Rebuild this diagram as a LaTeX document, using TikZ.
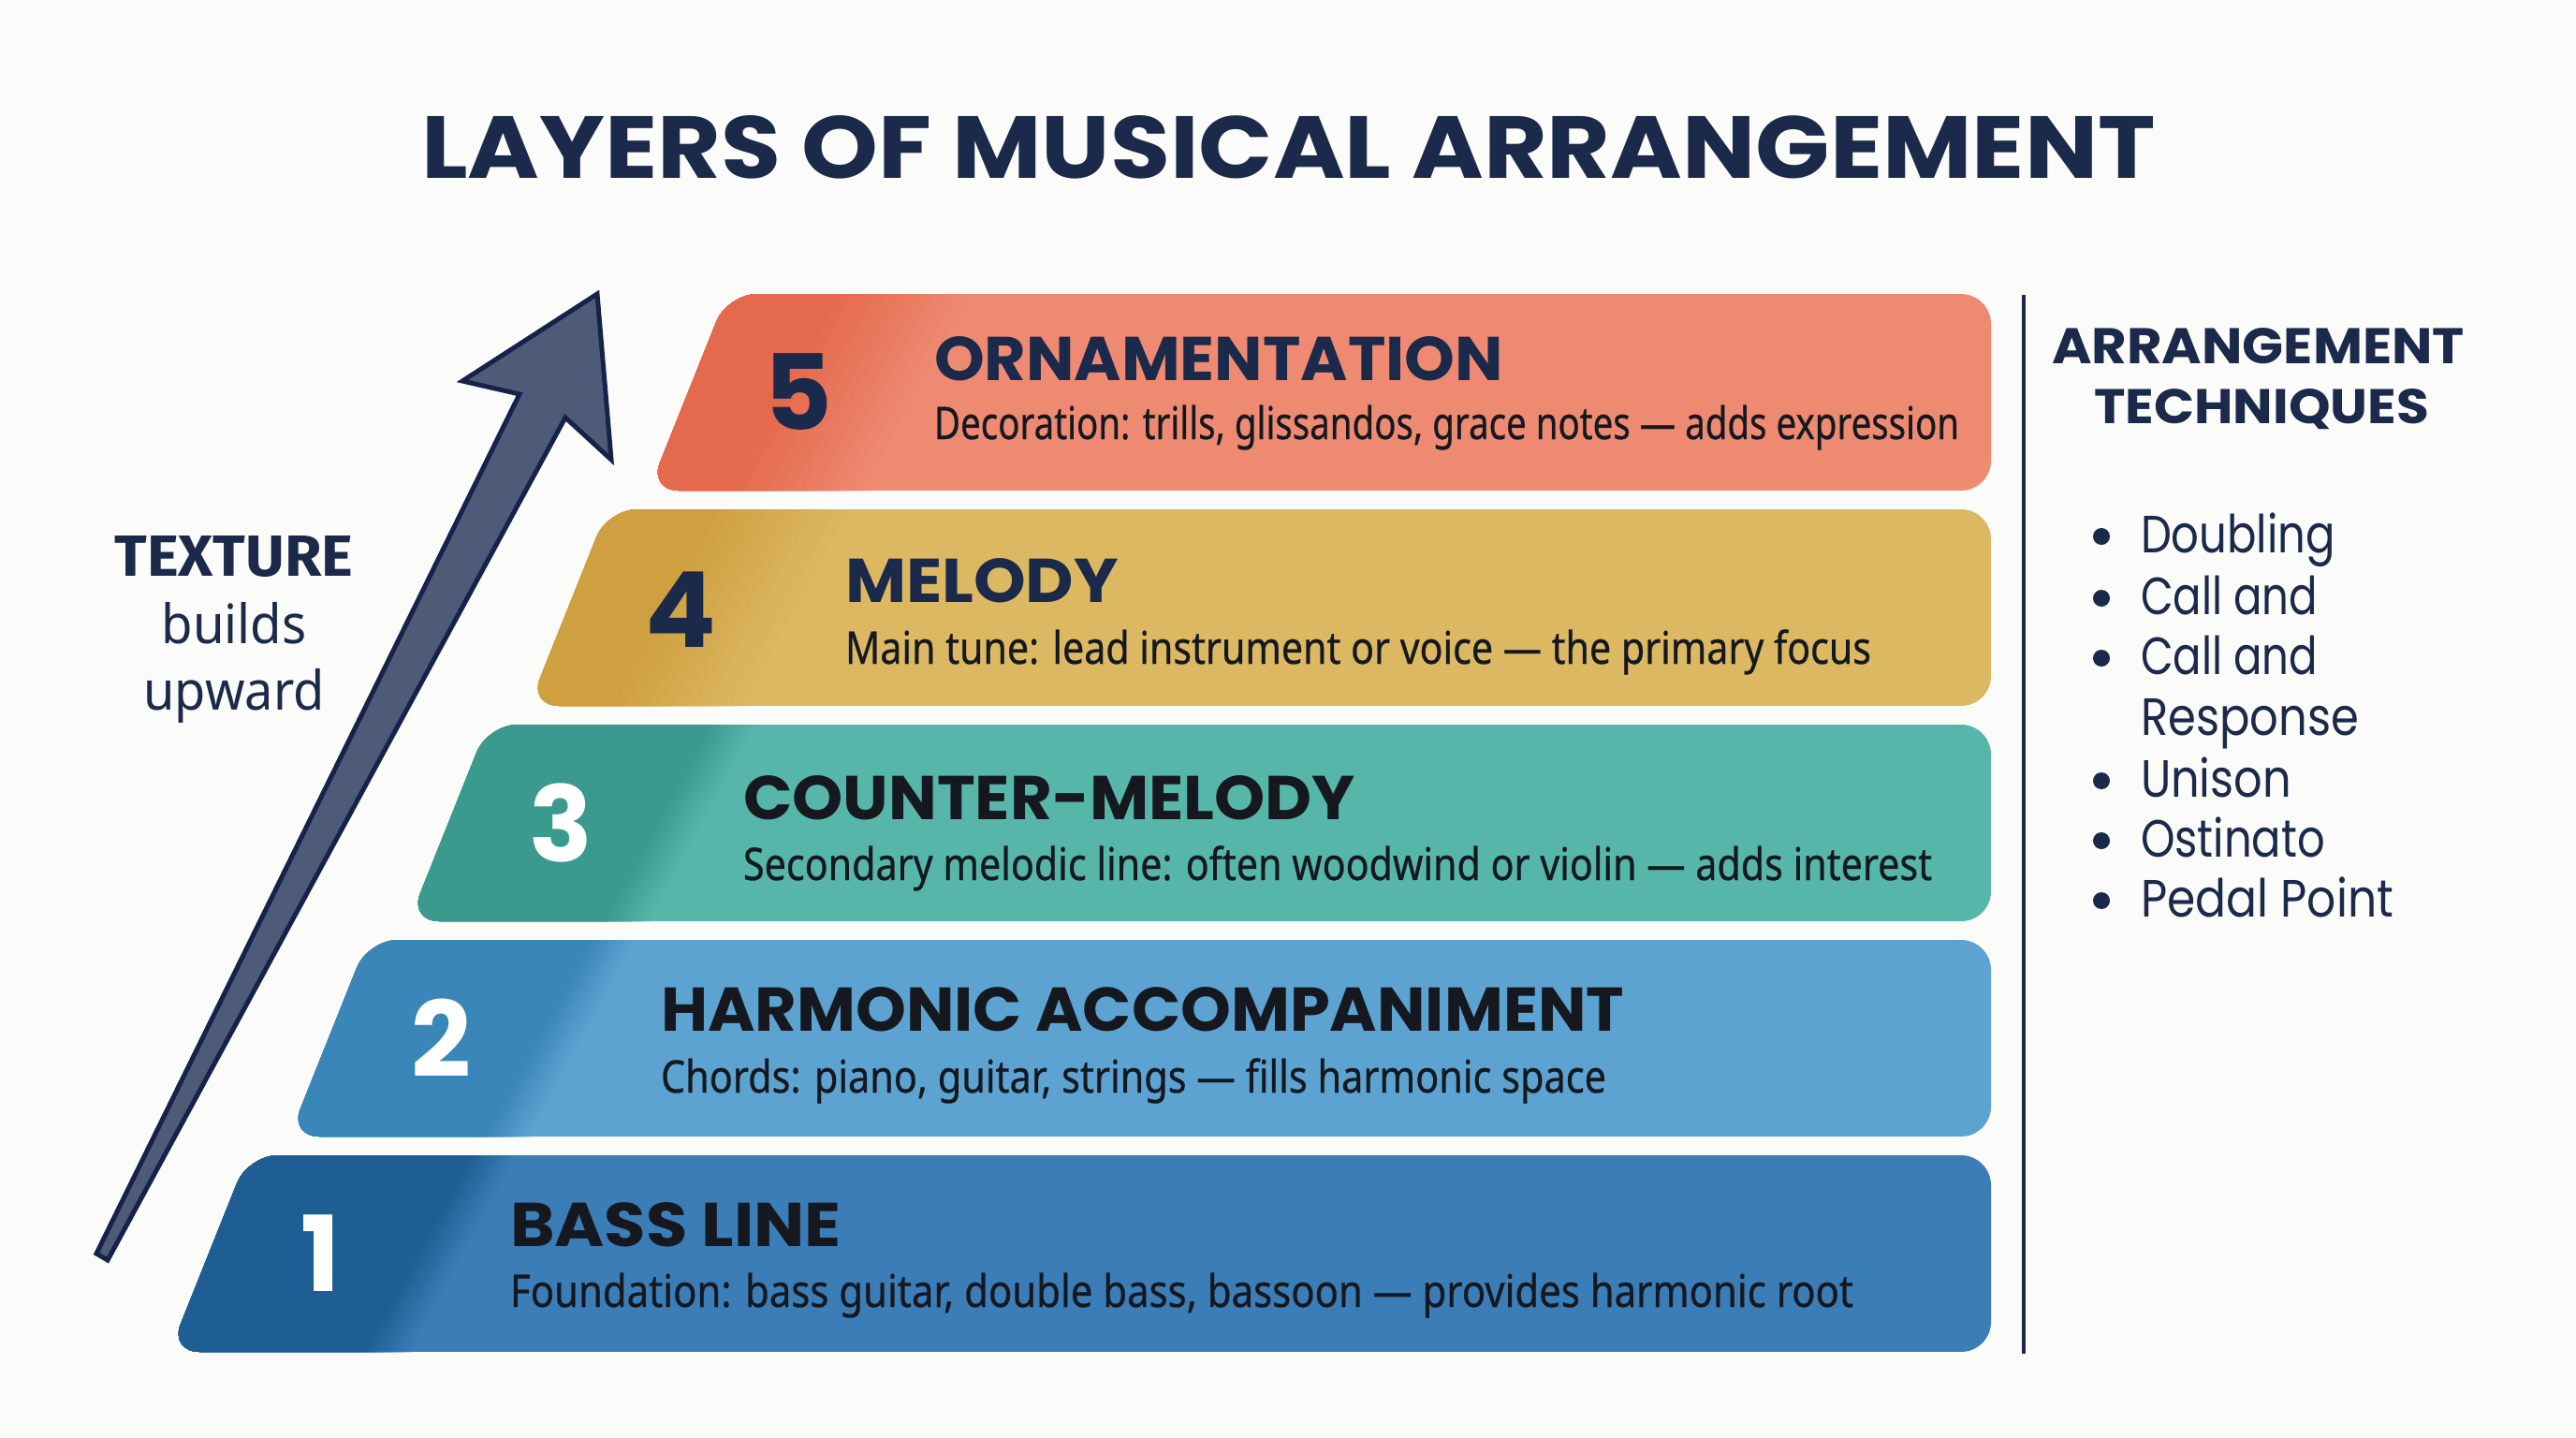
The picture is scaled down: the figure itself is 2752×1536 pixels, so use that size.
\documentclass[tikz,border=0pt]{standalone}
\usepackage{fontspec}
\usepackage{graphicx}
\setmainfont{Noto Sans}
\newfontfamily\pop{Poppins}
\newfontfamily\descf{Noto Sans}[FakeBold=0.6]
\newfontfamily\firab{Fira Sans Bold}
\newfontfamily\fira{Fira Sans}
\newcommand{\fitwh}[3]{\resizebox{#1}{#2}{#3}}
\newcommand{\fitw}[2]{\resizebox{#1}{\height}{#2}}
\definecolor{navy}{HTML}{1B2A4A}
\definecolor{ink}{HTML}{15181F}
\definecolor{bg}{HTML}{FBFBF9}
\definecolor{arrowfill}{HTML}{4E5B78}
\definecolor{arrowline}{HTML}{15234A}
\definecolor{cmain}{HTML}{EE8A72}\definecolor{cdark}{HTML}{E5694C}
\definecolor{gmain}{HTML}{DCB863}\definecolor{gdark}{HTML}{CFA03F}
\definecolor{tmain}{HTML}{56B6A9}\definecolor{tdark}{HTML}{3A9A8D}
\definecolor{lmain}{HTML}{5CA3D1}\definecolor{ldark}{HTML}{3B86B8}
\definecolor{bmain}{HTML}{3B7DB7}\definecolor{bdark}{HTML}{1F5E94}
% #1 top, #2 left-bottom x, #3 main, #4 dark, #5 band start, #6 band width
\newcommand{\layershape}[6]{%
  \begin{scope}
    \clip[rounded corners=32pt] (#2,#1+210) -- ({#2+84},#1) -- (2127,#1) -- (2127,#1+210) -- cycle;
    \fill[#3] (0,#1) rectangle (2200,#1+210);
    \foreach \k in {12,11,...,0}{%
      \pgfmathsetmacro\o{#5+\k*#6/12}%
      \pgfmathtruncatemacro\pc{100-\k*100/12}%
      \fill[#4!\pc!#3] (0,#1) -- ({#2+84+\o},#1) -- ({#2+\o-30},#1+210) -- (0,#1+210) -- cycle;
    }
  \end{scope}}
\begin{document}
\begin{tikzpicture}[x=1pt,y=-1pt,
  every node/.style={inner sep=0pt, outer sep=0pt},
  head/.style={anchor=base west, font=\pop\bfseries\fontsize{67}{67}\selectfont},
  desc/.style={anchor=base west, text=ink, font=\descf\fontsize{48}{48}\selectfont},
  num/.style={anchor=center, font=\pop\bfseries\fontsize{112}{112}\selectfont},
  item/.style={anchor=base west, text=navy, font=\pop\fontsize{56}{56}\selectfont},
  bul/.style={circle, fill=navy, minimum size=18pt},
  side/.style={anchor=base, text=navy}]
\useasboundingbox (0,0) rectangle (2752,1536);
\fill[bg] (0,0) rectangle (2752,1536);

% title
\node[anchor=base west, text=navy, font=\pop\bfseries\fontsize{96}{96}\selectfont] (title) at (450,190)
  {\fitwh{1853pt}{67pt}{LAYERS OF MUSICAL ARRANGEMENT}};

% layers
\layershape{1234}{181}{bmain}{bdark}{240}{50}
\layershape{1004}{309}{lmain}{ldark}{240}{50}
\layershape{774}{437}{tmain}{tdark}{240}{50}
\layershape{544}{565}{gmain}{gdark}{120}{150}
\layershape{314}{693}{cmain}{cdark}{120}{150}

% numbers
\node[num, text=white] (n1) at (343,1339) {1};
\node[num, text=white] (n2) at (471,1109) {2};
\node[num, text=white] (n3) at (599,879) {3};
\node[num, text=navy] (n4) at (727,651) {4};
\node[num, text=navy] (n5) at (853,419) {5};

% headings and descriptions
\node[head, text=navy] (h5) at (998,406) {\fitwh{608pt}{47pt}{ORNAMENTATION}};
\node[desc] (d5) at (998,469) {\fitw{1095pt}{Decoration: trills, glissandos, grace notes — adds expression}};
\node[head, text=navy] (h4) at (903,643) {\fitwh{292pt}{47pt}{MELODY}};
\node[desc] (d4) at (903,709) {\fitw{1096pt}{Main tune: lead instrument or voice — the primary focus}};
\node[head, text=ink] (h3) at (794,875) {\fitwh{654pt}{47pt}{COUNTER-MELODY}};
\node[desc] (d3) at (794,940) {\fitw{1270pt}{Secondary melodic line: often woodwind or violin — adds interest}};
\node[head, text=ink] (h2) at (706,1101) {\fitwh{1029pt}{47pt}{HARMONIC ACCOMPANIMENT}};
\node[desc] (d2) at (706,1167) {\fitw{1010pt}{Chords: piano, guitar, strings — fills harmonic space}};
\node[head, text=ink] (h1) at (545,1331) {\fitwh{354pt}{47pt}{BASS LINE}};
\node[desc] (d1) at (545,1396) {\fitw{1435pt}{Foundation: bass guitar, double bass, bassoon — provides harmonic root}};

% arrow
\filldraw[fill=arrowfill, draw=arrowline, line width=5pt, line join=miter]
  (103,1339) -- (555,421) -- (494,407) -- (638,314) -- (653,491) -- (604,446) -- (115,1346) -- cycle;

% left label
\node[side, font=\firab\fontsize{60}{60}\selectfont] (tex) at (250,615) {\fitwh{255pt}{43pt}{TEXTURE}};
\node[side, font=\fontsize{58}{58}\selectfont] (bld) at (250,687) {\fitw{155pt}{builds}};
\node[side, font=\fontsize{58}{58}\selectfont] (upw) at (250,758) {\fitw{193pt}{upward}};

% divider
\coordinate (vtop) at (2162,315);
\coordinate (vbot) at (2162,1446);
\draw[navy, line width=4pt] (vtop) -- (vbot);

% right panel
\node[anchor=base west, text=navy, font=\pop\bfseries\fontsize{54}{54}\selectfont] (rt1) at (2192,388) {\fitwh{441pt}{38pt}{ARRANGEMENT}};
\node[anchor=base west, text=navy, font=\pop\bfseries\fontsize{54}{54}\selectfont] (rt2) at (2237,452) {\fitwh{358pt}{37pt}{TECHNIQUES}};

\node[bul] (b1) at (2245,573) {};
\node[item] (i1) at (2287,590) {\fitw{208pt}{Doubling}};
\node[bul] (b2) at (2245,639) {};
\node[item] (i2) at (2287,656) {\fitw{189pt}{Call and}};
\node[bul] (b3) at (2245,703) {};
\node[item] (i3) at (2287,720) {\fitw{189pt}{Call and}};
\node[item] (i3b) at (2287,785) {\fitw{233pt}{Response}};
\node[bul] (b4) at (2245,834) {};
\node[item] (i4) at (2287,851) {\fitw{161pt}{Unison}};
\node[bul] (b5) at (2245,898) {};
\node[item] (i5) at (2287,915) {\fitw{197pt}{Ostinato}};
\node[bul] (b6) at (2245,962) {};
\node[item] (i6) at (2287,979) {\fitw{270pt}{Pedal Point}};
\end{tikzpicture}
\end{document}
